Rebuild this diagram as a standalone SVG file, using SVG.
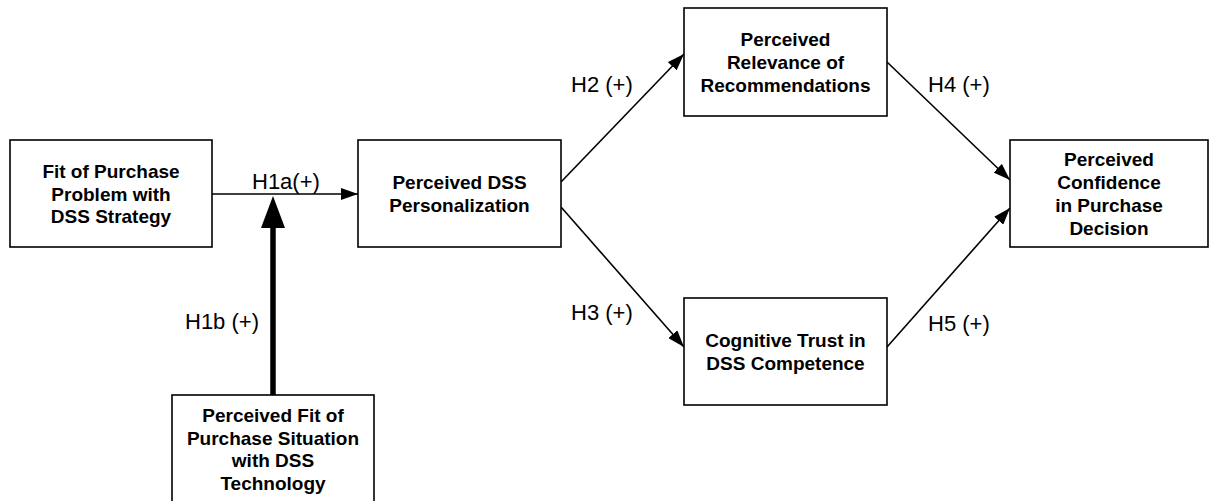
<svg xmlns="http://www.w3.org/2000/svg" width="1210" height="501" viewBox="0 0 1210 501">
<style>
.box{fill:#fff;stroke:#000;stroke-width:1.6}
.t{font-family:"Liberation Sans",Arial,sans-serif;font-weight:bold;font-size:19px;text-anchor:middle;fill:#000}
.lbl{font-family:"Liberation Sans",Arial,sans-serif;font-size:22px;fill:#000}
.c{fill:none;stroke:#000;stroke-width:1.6}
</style>
<defs>
<marker id="ah" markerUnits="userSpaceOnUse" markerWidth="17" markerHeight="12" refX="17" refY="6" orient="auto">
<path d="M0,0 L17,6 L0,12 z" fill="#000"/>
</marker>
<marker id="ahBig" markerUnits="userSpaceOnUse" markerWidth="32" markerHeight="24" refX="0" refY="12" orient="auto">
<path d="M0,0 L32,12 L0,24 z" fill="#000"/>
</marker>
</defs>
<rect width="1210" height="501" fill="#fff"/>
<g id="connectors">
<line class="c" x1="212" y1="194" x2="358" y2="194" marker-end="url(#ah)"/>
<line x1="273" y1="395" x2="273" y2="228" stroke="#000" stroke-width="5.5" marker-end="url(#ahBig)"/>
<line class="c" x1="561" y1="182" x2="684" y2="54" marker-end="url(#ah)"/>
<line class="c" x1="561" y1="207" x2="684" y2="347" marker-end="url(#ah)"/>
<line class="c" x1="887" y1="62" x2="1010" y2="180" marker-end="url(#ah)"/>
<line class="c" x1="887" y1="347" x2="1010" y2="208" marker-end="url(#ah)"/>
<text class="lbl" x="252" y="189">H1a(+)</text>
<text class="lbl" x="185" y="329">H1b (+)</text>
<text class="lbl" x="571" y="92">H2 (+)</text>
<text class="lbl" x="571" y="320">H3 (+)</text>
<text class="lbl" x="928" y="92">H4 (+)</text>
<text class="lbl" x="928" y="331">H5 (+)</text>
</g>
<g id="fit-problem">
<rect class="box" x="10" y="140" width="202" height="107"/>
<text class="t" x="111" y="177.5">Fit of Purchase</text>
<text class="t" x="111" y="200.5">Problem with</text>
<text class="t" x="111" y="223">DSS Strategy</text>
</g>
<g id="personalization">
<rect class="box" x="358" y="140" width="203" height="107"/>
<text class="t" x="459.5" y="188.5">Perceived DSS</text>
<text class="t" x="459.5" y="211.5">Personalization</text>
</g>
<g id="relevance">
<rect class="box" x="684" y="8" width="203" height="108"/>
<text class="t" x="785.5" y="46">Perceived</text>
<text class="t" x="785.5" y="69">Relevance of</text>
<text class="t" x="785.5" y="92">Recommendations</text>
</g>
<g id="trust">
<rect class="box" x="684" y="298" width="203" height="107"/>
<text class="t" x="785.5" y="347">Cognitive Trust in</text>
<text class="t" x="785.5" y="370">DSS Competence</text>
</g>
<g id="confidence">
<rect class="box" x="1010" y="140" width="198" height="107"/>
<text class="t" x="1109" y="165.5">Perceived</text>
<text class="t" x="1109" y="188.5">Confidence</text>
<text class="t" x="1109" y="211.5">in Purchase</text>
<text class="t" x="1109" y="234.5">Decision</text>
</g>
<g id="fit-situation">
<rect class="box" x="172" y="395" width="202" height="112"/>
<text class="t" x="273" y="422">Perceived Fit of</text>
<text class="t" x="273" y="444.5">Purchase Situation</text>
<text class="t" x="273" y="467">with DSS</text>
<text class="t" x="273" y="489.5">Technology</text>
</g>
</svg>
